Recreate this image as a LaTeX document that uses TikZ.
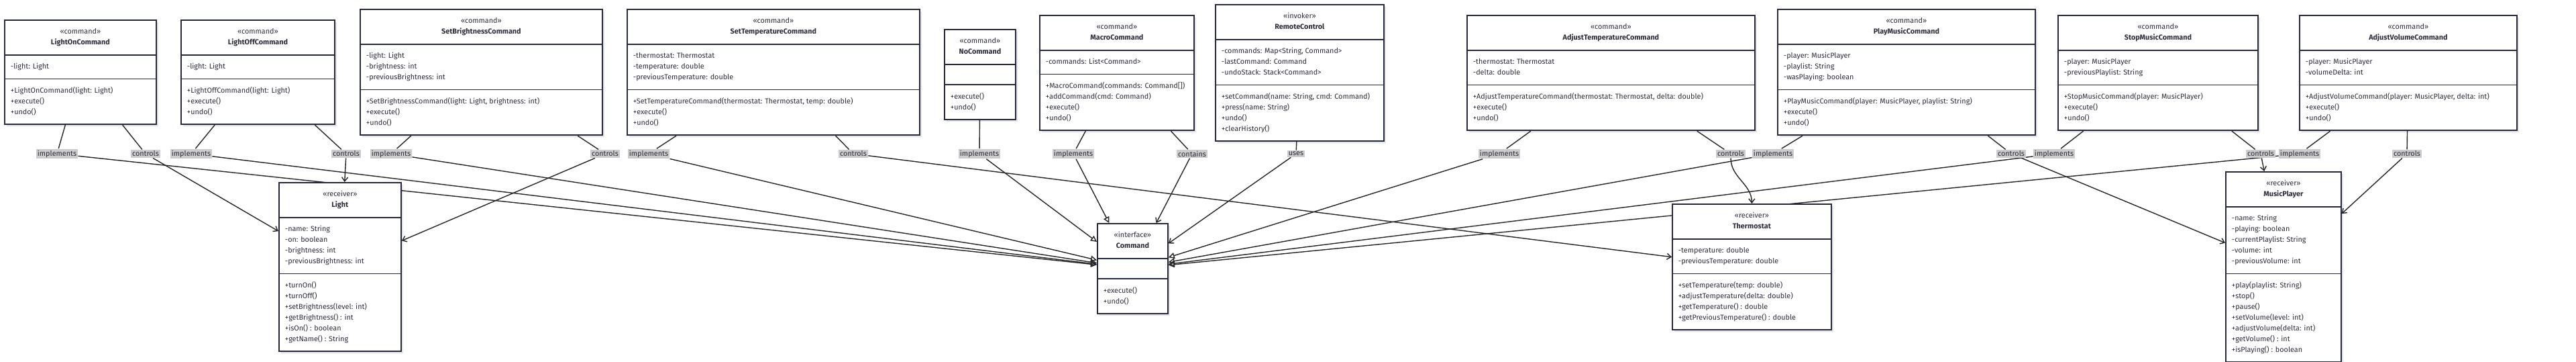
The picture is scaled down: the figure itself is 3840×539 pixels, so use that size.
\documentclass[tikz,border=0pt]{standalone}
\usepackage{fontspec}
\setmainfont{Fira Sans}
\usetikzlibrary{arrows.meta, shapes.multipart, shadows, backgrounds}

\definecolor{boxline}{RGB}{40,40,60}
\definecolor{textdark}{RGB}{44,44,58}
\definecolor{labelgray}{RGB}{204,204,204}

\newcommand{\classfont}{\fontsize{5.4}{8}\selectfont}
\newcommand{\stereo}[2]{\begin{tabular}{@{}c@{}}«#1»\\\textbf{#2}\end{tabular}}
\newcommand{\members}[1]{\begin{tabular}{@{}l@{}}#1\end{tabular}}

\begin{document}
\begin{tikzpicture}[
    x=0.5pt, y=-0.5pt,
    classbox/.style={rectangle split, rectangle split parts=3,
        rectangle split part align={center,left,left},
        rectangle split empty part height=0pt, rectangle split empty part depth=0pt,
        draw=boxline, line width=0.9pt, fill=white, anchor=north west,
        inner xsep=4.5pt, inner ysep=4.5pt, font=\classfont, text=textdark,
        drop shadow={shadow xshift=1.5pt, shadow yshift=-1.5pt, fill=black, opacity=0.1}},
    relname/.style={fill=labelgray, inner sep=1pt, font=\classfont, text=textdark},
    realizes/.style={draw=black!85, line width=0.7pt, -{Triangle[open, length=4.5pt, width=4.5pt]}},
    assoc/.style={draw=black!85, line width=0.7pt, -{Straight Barb[length=3pt, width=4.5pt]}}
]
\useasboundingbox (0,0) rectangle (3840,539);

% Commands
\node[classbox, minimum width=113pt] (lightOn) at (6,29)
    {\stereo{command}{LightOnCommand}
     \nodepart{two}\members{-light: Light}
     \nodepart{three}\members{+LightOnCommand(light: Light)\\+execute()\\+undo()}};
\node[classbox, minimum width=114.5pt] (lightOff) at (269,29)
    {\stereo{command}{LightOffCommand}
     \nodepart{two}\members{-light: Light}
     \nodepart{three}\members{+LightOffCommand(light: Light)\\+execute()\\+undo()}};
\node[classbox, minimum width=180.5pt] (setBright) at (536,13)
    {\stereo{command}{SetBrightnessCommand}
     \nodepart{two}\members{-light: Light\\-brightness: int\\-previousBrightness: int}
     \nodepart{three}\members{+SetBrightnessCommand(light: Light, brightness: int)\\+execute()\\+undo()}};
\node[classbox, minimum width=218pt] (setTemp) at (934,13)
    {\stereo{command}{SetTemperatureCommand}
     \nodepart{two}\members{-thermostat: Thermostat\\-temperature: double\\-previousTemperature: double}
     \nodepart{three}\members{+SetTemperatureCommand(thermostat: Thermostat, temp: double)\\+execute()\\+undo()}};
\node[classbox, minimum width=53pt] (noCmd) at (1407,43)
    {\stereo{command}{NoCommand}
     \nodepart{two}
     \nodepart{three}\members{+execute()\\+undo()}};
\node[classbox, minimum width=115pt] (macro) at (1549,22)
    {\stereo{command}{MacroCommand}
     \nodepart{two}\members{-commands: List<Command>}
     \nodepart{three}\members{+MacroCommand(commands: Command[])\\+addCommand(cmd: Command)\\+execute()\\+undo()}};
\node[classbox, minimum width=125.5pt] (remote) at (1811,6)
    {\stereo{invoker}{RemoteControl}
     \nodepart{two}\members{-commands: Map<String, Command>\\-lastCommand: Command\\-undoStack: Stack<Command>}
     \nodepart{three}\members{+setCommand(name: String, cmd: Command)\\+press(name: String)\\+undo()\\+clearHistory()}};
\node[classbox, minimum width=214.5pt] (adjTemp) at (2186,22)
    {\stereo{command}{AdjustTemperatureCommand}
     \nodepart{two}\members{-thermostat: Thermostat\\-delta: double}
     \nodepart{three}\members{+AdjustTemperatureCommand(thermostat: Thermostat, delta: double)\\+execute()\\+undo()}};
\node[classbox, minimum width=192pt] (playMusic) at (2649,13)
    {\stereo{command}{PlayMusicCommand}
     \nodepart{two}\members{-player: MusicPlayer\\-playlist: String\\-wasPlaying: boolean}
     \nodepart{three}\members{+PlayMusicCommand(player: MusicPlayer, playlist: String)\\+execute()\\+undo()}};
\node[classbox, minimum width=149pt] (stopMusic) at (3067,22)
    {\stereo{command}{StopMusicCommand}
     \nodepart{two}\members{-player: MusicPlayer\\-previousPlaylist: String}
     \nodepart{three}\members{+StopMusicCommand(player: MusicPlayer)\\+execute()\\+undo()}};
\node[classbox, minimum width=162pt] (adjVol) at (3427,22)
    {\stereo{command}{AdjustVolumeCommand}
     \nodepart{two}\members{-player: MusicPlayer\\-volumeDelta: int}
     \nodepart{three}\members{+AdjustVolumeCommand(player: MusicPlayer, delta: int)\\+execute()\\+undo()}};

% Interface and receivers
\node[classbox, minimum width=91pt] (light) at (415,271)
    {\stereo{receiver}{Light}
     \nodepart{two}\members{-name: String\\-on: boolean\\-brightness: int\\-previousBrightness: int}
     \nodepart{three}\members{+turnOn()\\+turnOff()\\+setBrightness(level: int)\\+getBrightness() : int\\+isOn() : boolean\\+getName() : String}};
\node[classbox, minimum width=52.5pt] (command) at (1635,332)
    {\stereo{interface}{Command}
     \nodepart{two}
     \nodepart{three}\members{+execute()\\+undo()}};
\node[classbox, minimum width=118.5pt] (thermo) at (2492,303)
    {\stereo{receiver}{Thermostat}
     \nodepart{two}\members{-temperature: double\\-previousTemperature: double}
     \nodepart{three}\members{+setTemperature(temp: double)\\+adjustTemperature(delta: double)\\+getTemperature() : double\\+getPreviousTemperature() : double}};
\node[classbox, minimum width=86pt] (player) at (3317,255)
    {\stereo{receiver}{MusicPlayer}
     \nodepart{two}\members{-name: String\\-playing: boolean\\-currentPlaylist: String\\-volume: int\\-previousVolume: int}
     \nodepart{three}\members{+play(playlist: String)\\+stop()\\+pause()\\+setVolume(level: int)\\+adjustVolume(delta: int)\\+getVolume() : int\\+isPlaying() : boolean}};

% Relation names
\node[relname] (impLightOn) at (85,229) {implements};
\node[relname] (ctlLightOn) at (217,229) {controls};
\node[relname] (impLightOff) at (285,229) {implements};
\node[relname] (ctlLightOff) at (516,229) {controls};
\node[relname] (impSetBright) at (583,229) {implements};
\node[relname] (ctlSetBright) at (902,229) {controls};
\node[relname] (impSetTemp) at (967,229) {implements};
\node[relname] (ctlSetTemp) at (1272,229) {controls};
\node[relname] (impNoCmd) at (1460,229) {implements};
\node[relname] (impMacro) at (1600,229) {implements};
\node[relname] (hasMacro) at (1777,229) {contains};
\node[relname] (useRemote) at (1932,229) {uses};
\node[relname] (impAdjTemp) at (2235,229) {implements};
\node[relname] (ctlAdjTemp) at (2580,229) {controls};
\node[relname] (impPlay) at (2643,229) {implements};
\node[relname] (ctlPlay) at (2998,229) {controls};
\node[relname] (impStop) at (3062,229) {implements};
\node[relname] (ctlStop) at (3370,229) {controls};
\node[relname] (impAdjVol) at (3428,229) {implements};
\node[relname] (ctlAdjVol) at (3588,229) {controls};

% Edges
\begin{pgfonlayer}{background}
\draw[realizes] (lightOn) -- (impLightOn) -- (command);
\draw[assoc] (lightOn) -- (ctlLightOn) -- (light);
\draw[realizes] (lightOff) -- (impLightOff) -- (command);
\draw[assoc] (lightOff) -- (ctlLightOff) -- (light);
\draw[realizes] (setBright) -- (impSetBright) -- (command);
\draw[assoc] (setBright) -- (ctlSetBright) -- (light);
\draw[realizes] (setTemp) -- (impSetTemp) -- (command);
\draw[assoc] (setTemp) -- (ctlSetTemp) -- (thermo);
\draw[realizes] (noCmd) -- (impNoCmd) -- (command);
\draw[realizes] (macro) -- (impMacro) -- (command);
\draw[assoc] (macro) -- (hasMacro) -- (command);
\draw[assoc] (remote) -- (useRemote) -- (command);
\draw[realizes] (adjTemp) -- (impAdjTemp) -- (command);
\draw[assoc] (adjTemp) -- (ctlAdjTemp) to[out=-90, in=90] (thermo.north);
\draw[realizes] (playMusic) -- (impPlay) -- (command);
\draw[assoc] (playMusic) -- (ctlPlay) -- (player);
\draw[realizes] (stopMusic) -- (impStop) -- (command);
\draw[assoc] (stopMusic) -- (ctlStop) -- (player);
\draw[realizes] (adjVol) -- (impAdjVol) -- (command);
\draw[assoc] (adjVol) -- (ctlAdjVol) -- (player);
\end{pgfonlayer}

\end{tikzpicture}
\end{document}
